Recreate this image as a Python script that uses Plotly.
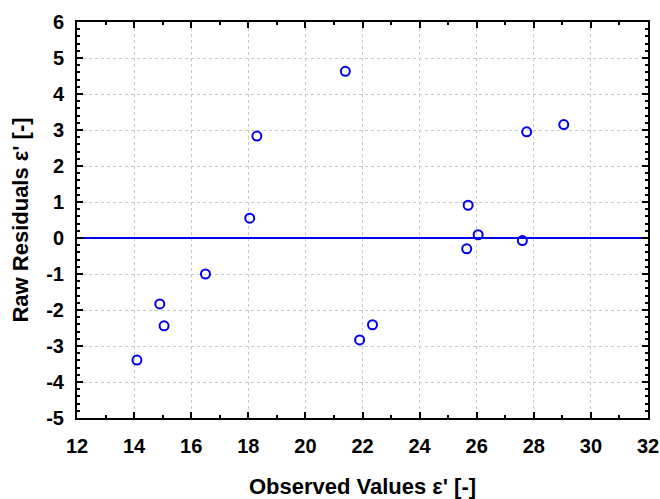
import plotly.graph_objects as go

# Observed values and raw residuals
observed = [14.1, 14.9, 15.05, 16.5, 18.05, 18.3, 21.4, 21.9, 22.35,
            25.65, 25.7, 26.05, 27.6, 27.75, 29.05]
residuals = [-3.39, -1.83, -2.44, -1.0, 0.55, 2.83, 4.63, -2.83, -2.41,
             -0.3, 0.91, 0.09, -0.07, 2.95, 3.15]

# Zero-residual reference line
ref_x = [12, 32]
ref_y = [0, 0]

x_ticks = [12, 14, 16, 18, 20, 22, 24, 26, 28, 30, 32]
y_ticks = [-5, -4, -3, -2, -1, 0, 1, 2, 3, 4, 5, 6]

blue = "#0000ee"
font_family = "Liberation Sans, Arial, sans-serif"

fig = go.Figure()
fig.add_trace(go.Scatter(x=ref_x, y=ref_y, mode="lines",
                         line=dict(color=blue, width=2), hoverinfo="skip"))
fig.add_trace(go.Scatter(x=observed, y=residuals, mode="markers",
                         marker=dict(symbol="circle-open", size=9,
                                     color=blue, line=dict(width=2, color=blue))))

axis_common = dict(
    showline=True, linecolor="black", linewidth=2, mirror="ticks",
    ticks="inside", ticklen=6, tickwidth=2, tickcolor="black",
    showgrid=True, gridcolor="#c8c8c8", griddash="dot", gridwidth=1,
    zeroline=False, ticklabeloverflow="allow", automargin=False,
    tickfont=dict(family=font_family, size=20, color="black", weight="bold"),
)

fig.update_xaxes(
    range=[12, 32], tickvals=x_ticks, ticktext=[str(v) for v in x_ticks],
    minor=dict(dtick=1, ticks="inside", ticklen=3, tickwidth=2, tickcolor="black",
               showgrid=False),
    ticklabelstandoff=9,
    title=dict(text="Observed Values ε' [-]", standoff=24,
               font=dict(family=font_family, size=22, color="black", weight="bold")),
    **axis_common,
)
fig.update_yaxes(
    range=[-5, 6], tickvals=y_ticks, ticktext=[str(v) for v in y_ticks],
    minor=dict(dtick=0.2, ticks="inside", ticklen=3, tickwidth=2, tickcolor="black",
               showgrid=False),
    ticklabelstandoff=7,
    title=dict(text="Raw Residuals ε' [-]", standoff=12,
               font=dict(family=font_family, size=22, color="black", weight="bold")),
    **axis_common,
)

fig.update_layout(
    width=660, height=499,
    margin=dict(l=77, r=12, t=22, b=81),
    paper_bgcolor="white", plot_bgcolor="white",
    showlegend=False,
)

fig.write_html("out.html")
